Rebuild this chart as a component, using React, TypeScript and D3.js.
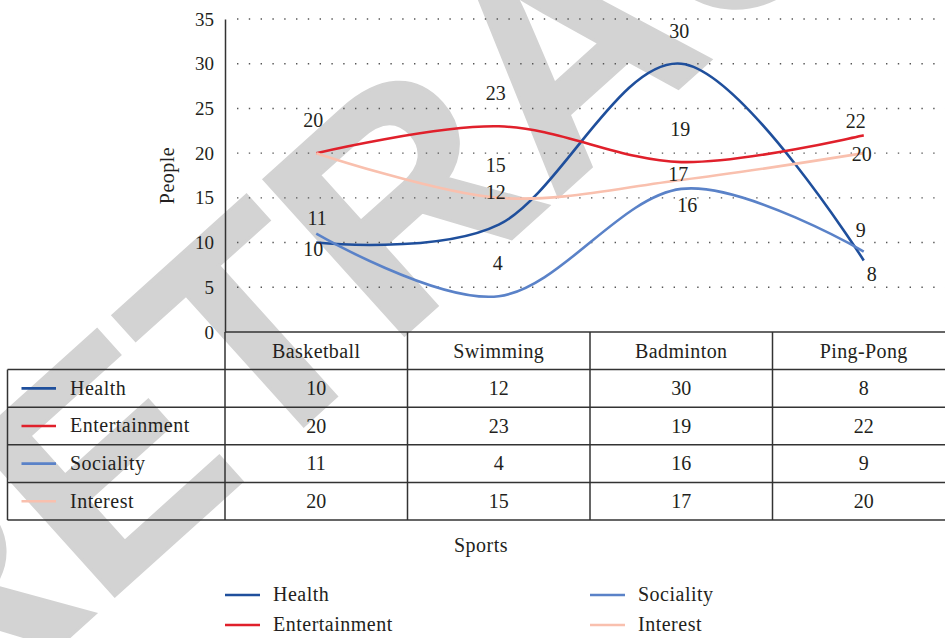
import { useEffect, useRef } from 'react'
import * as d3 from 'd3'

const sports = ['Basketball', 'Swimming', 'Badminton', 'Ping-Pong']
const health = [10, 12, 30, 8]
const entertainment = [20, 23, 19, 22]
const sociality = [11, 4, 16, 9]
const interest = [20, 15, 17, 20]
const yTicks = [0, 5, 10, 15, 20, 25, 30, 35]

const seriesNames = ['Health', 'Entertainment', 'Sociality', 'Interest']
const seriesValues = [health, entertainment, sociality, interest]
const seriesColors = ['#1f4f9c', '#e0202b', '#5a82c8', '#f9c0ae']

// hand placed label offsets (px) per series / category
const labelOffsets = [
  [[-3, 7], [-3, -32], [-2, -33], [8, 14]],
  [[-3, -33], [-3, -33], [-1, -33], [-8, -14]],
  [[1, -15], [-1, -33], [6, 16], [-3, -21]],
  [[-3, -33], [-3, -33], [-3, -6], [-2, 1]],
]

const FONT = '"Liberation Serif", "Times New Roman", serif'

export default function App() {
  const ref = useRef<SVGSVGElement>(null)

  useEffect(() => {
    document.body.style.margin = '0'
    const svg = d3.select(ref.current)
    svg.selectAll('*').remove()

    const plotLeft = 225
    const plotRight = 955
    const x = d3.scaleBand().domain(sports).range([plotLeft, plotRight])
    const cx = (s: string) => (x(s) as number) + x.bandwidth() / 2
    const y = d3.scaleLinear().domain([0, 35]).range([332, 19])

    const txt = (sel: any, size = 20) =>
      sel.attr('font-family', FONT).attr('font-size', size).attr('fill', '#231f20')

    // watermark
    svg
      .append('text')
      .attr('transform', 'translate(-64,757) rotate(-42)')
      .attr('font-family', '"Liberation Sans", Arial, sans-serif')
      .attr('font-weight', 'bold')
      .attr('font-size', 305)
      .attr('fill', '#d3d3d3')
      .attr('stroke', '#d3d3d3')
      .attr('stroke-width', 3)
      .text('RETRACTED')

    // grid
    svg
      .append('g')
      .selectAll('line')
      .data(yTicks.filter(d => d > 0))
      .enter()
      .append('line')
      .attr('x1', 237)
      .attr('x2', 945)
      .attr('y1', d => y(d))
      .attr('y2', d => y(d))
      .attr('stroke', '#555')
      .attr('stroke-width', 1.4)
      .attr('stroke-dasharray', '1.4,10.4')

    // y axis
    const axis = d3.axisLeft(y).tickValues(yTicks).tickSize(0).tickPadding(11)
    const ga = svg.append('g').attr('transform', `translate(${plotLeft},0)`).call(axis)
    ga.select('.domain').attr('stroke', '#333').attr('stroke-width', 1.5)
    txt(ga.selectAll('text'), 19)

    txt(
      svg
        .append('text')
        .attr('transform', `translate(174,${(y(0) + y(35)) / 2}) rotate(-90)`)
        .attr('text-anchor', 'middle')
        .attr('letter-spacing', 0.5)
        .text('People')
    )

    // lines
    const line = d3
      .line<number>()
      .x((_, i) => cx(sports[i]))
      .y(d => y(d))
      .curve(d3.curveCardinal.tension(0))

    svg
      .append('g')
      .selectAll('path')
      .data(seriesValues)
      .enter()
      .append('path')
      .attr('d', d => line(d))
      .attr('fill', 'none')
      .attr('stroke', (_, i) => seriesColors[i])
      .attr('stroke-width', 2.6)

    // data labels (skip a label that falls exactly on an earlier one)
    const seen = new Set<string>()
    const labels: { x: number; y: number; v: number }[] = []
    seriesValues.forEach((vals, si) => {
      vals.forEach((v, i) => {
        const lx = cx(sports[i]) + labelOffsets[si][i][0]
        const ly = y(v) + labelOffsets[si][i][1]
        const key = `${Math.round(lx)}-${Math.round(ly)}-${v}`
        if (seen.has(key)) return
        seen.add(key)
        labels.push({ x: lx, y: ly, v })
      })
    })
    txt(
      svg
        .append('g')
        .selectAll('text')
        .data(labels)
        .enter()
        .append('text')
        .attr('x', d => d.x)
        .attr('y', d => d.y)
        .attr('dy', '0.34em')
        .attr('text-anchor', 'middle')
        .text(d => d.v)
    )

    // data table
    const rows = d3.scaleBand().domain(['head', ...seriesNames]).range([332, 520])
    const tableLeft = 7.5
    const tg = svg.append('g')
    const hl = (x1: number, x2: number, yy: number) =>
      tg.append('line').attr('x1', x1).attr('x2', x2).attr('y1', yy).attr('y2', yy)
        .attr('stroke', '#333').attr('stroke-width', 1.5)
    const vl = (xx: number, y1: number, y2: number) =>
      tg.append('line').attr('x1', xx).attr('x2', xx).attr('y1', y1).attr('y2', y2)
        .attr('stroke', '#333').attr('stroke-width', 1.5)

    hl(plotLeft, plotRight, 332)
    seriesNames.forEach(r => hl(tableLeft, plotRight, rows(r) as number))
    hl(tableLeft, plotRight, 520)
    vl(tableLeft, rows('Health') as number, 520)
    sports.forEach(s => vl(x(s) as number, 332, 520))

    const rc = (r: string) => (rows(r) as number) + rows.bandwidth() / 2

    txt(
      tg.selectAll('text.head')
        .data(sports)
        .enter()
        .append('text')
        .attr('x', d => cx(d))
        .attr('y', rc('head'))
        .attr('dy', '0.34em')
        .attr('text-anchor', 'middle')
        .attr('letter-spacing', 0.4)
        .text(d => d)
    )

    seriesNames.forEach((name, si) => {
      const yy = rc(name)
      tg.append('line')
        .attr('x1', 21.5)
        .attr('x2', 56)
        .attr('y1', yy)
        .attr('y2', yy)
        .attr('stroke', seriesColors[si])
        .attr('stroke-width', 2.6)
      txt(
        tg.append('text')
          .attr('x', 70)
          .attr('y', yy)
          .attr('dy', '0.32em')
          .attr('letter-spacing', 0.5)
          .text(name)
      )
      seriesValues[si].forEach((v, i) => {
        txt(
          tg.append('text')
            .attr('x', cx(sports[i]))
            .attr('y', yy)
            .attr('dy', '0.34em')
            .attr('text-anchor', 'middle')
            .text(v)
        )
      })
    })

    txt(
      svg
        .append('text')
        .attr('x', 481)
        .attr('y', 546)
        .attr('dy', '0.3em')
        .attr('text-anchor', 'middle')
        .attr('letter-spacing', 0.5)
        .text('Sports')
    )

    // legend, two columns
    const legend = svg.append('g')
    seriesNames.forEach((name, i) => {
      const lx = i < 2 ? 225 : 590
      const ly = i % 2 === 0 ? 595 : 625
      legend.append('line')
        .attr('x1', lx)
        .attr('x2', lx + 35)
        .attr('y1', ly)
        .attr('y2', ly)
        .attr('stroke', seriesColors[i])
        .attr('stroke-width', 2.6)
      txt(
        legend.append('text')
          .attr('x', lx + 48)
          .attr('y', ly)
          .attr('dy', '0.32em')
          .attr('letter-spacing', 0.5)
          .text(name)
      )
    })
  }, [])

  return <svg ref={ref} width={945} height={638} style={{ display: 'block', background: '#fff' }} />
}
